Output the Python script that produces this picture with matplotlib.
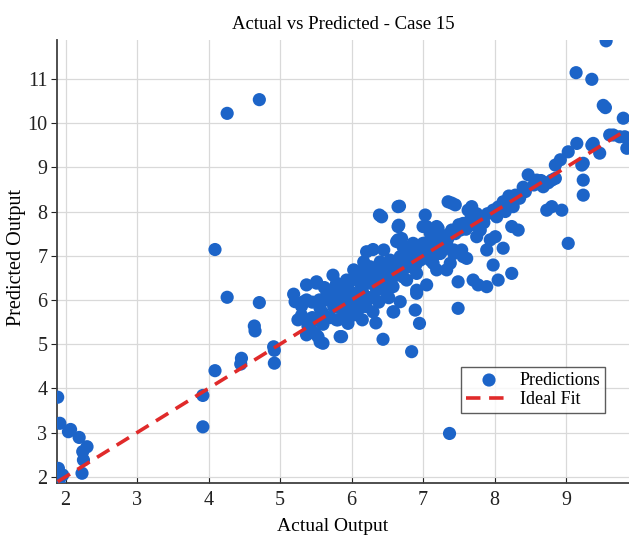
import matplotlib
matplotlib.use("Agg")
import matplotlib.pyplot as plt
import numpy as np

title = "Actual vs Predicted - Case 15"
x_label = "Actual Output"
y_label = "Predicted Output"
x_ticks = [2, 3, 4, 5, 6, 7, 8, 9]
y_ticks = [2, 3, 4, 5, 6, 7, 8, 9, 10, 11]

points = [
    # low cluster near 2
    (1.89, 3.80), (1.92, 3.21), (2.04, 3.02), (2.07, 3.07), (2.19, 2.89), (2.30, 2.68),
    (2.24, 2.57), (2.25, 2.38), (2.23, 2.08), (1.90, 2.19), (1.96, 2.04), (1.91, 1.86),
    # around 4-5
    (3.92, 3.84), (3.92, 3.13), (4.09, 7.14), (4.26, 6.06), (4.71, 5.94), (4.64, 5.41),
    (4.65, 5.30), (4.46, 4.68), (4.45, 4.55), (4.09, 4.40), (4.92, 4.86), (4.92, 4.57),
    (4.26, 10.22), (4.71, 10.53), (4.91, 4.94),
    # 5-6
    (5.19, 6.13), (5.21, 5.96), (5.30, 5.86), (5.37, 6.00), (5.37, 6.34), (5.51, 6.38),
    (5.74, 6.56), (5.72, 6.22), (5.56, 5.81), (5.60, 5.70), (5.39, 5.41), (5.46, 5.28),
    (5.53, 5.17), (5.60, 5.02), (5.37, 5.21), (5.79, 5.55), (5.84, 5.17), (5.33, 5.96),
    (5.74, 6.00), (5.84, 6.30), (5.88, 5.77), (5.81, 5.55), (5.86, 5.17), (5.95, 5.47),
    (5.42, 5.43), (5.49, 5.24), (5.56, 5.05), (5.51, 6.41),
    (5.60, 5.45), (5.70, 5.60), (5.75, 5.85), (5.85, 5.95), (5.90, 5.60), (5.65, 6.10),
    (5.55, 6.00), (5.45, 5.95), (5.45, 5.60), (5.30, 5.65), (5.25, 5.55),
    (5.98, 6.00), (5.88, 6.15), (5.79, 6.38), (5.70, 6.22), (5.67, 6.00), (5.79, 5.85),
    (5.93, 5.85), (5.93, 6.45), (5.95, 6.25), (5.62, 6.28), (5.82, 6.05), (5.52, 5.55),
    # 6-7
    (6.00, 5.75), (6.05, 5.90), (6.10, 6.05), (6.15, 5.55), (6.20, 5.85),
    (6.67, 8.12), (6.39, 7.92), (6.66, 7.69), (6.63, 7.32), (6.21, 7.09), (6.30, 7.14),
    (6.40, 6.86), (6.07, 6.64), (6.03, 5.66), (6.30, 5.73), (6.34, 5.48), (6.44, 5.11),
    (6.59, 5.73), (6.89, 5.77), (6.95, 5.47), (6.84, 4.83), (6.91, 6.22), (6.77, 6.45),
    (6.40, 6.30), (6.21, 6.07), (6.09, 5.77), (6.17, 6.60), (6.26, 6.75), (6.45, 6.79),
    (6.54, 6.90), (6.68, 6.98), (6.82, 7.05), (6.91, 7.17), (6.96, 6.90), (6.72, 6.75),
    (6.58, 6.52), (6.49, 6.45), (6.35, 6.22), (6.26, 6.38), (6.12, 6.38), (6.03, 6.15),
    (6.07, 6.00), (6.17, 6.86), (6.03, 6.68), (6.82, 6.75), (6.91, 6.60), (6.72, 7.20),
    (6.86, 7.28), (6.70, 7.39), (6.45, 7.13), (6.65, 8.11), (6.65, 7.66), (6.42, 7.88),
    (6.65, 7.36), (6.58, 5.73), (6.68, 5.96), (6.91, 6.15), (6.49, 6.15), (6.68, 6.68),
    (6.86, 6.83), (6.96, 7.05), (6.82, 6.98), (6.54, 6.75), (6.44, 6.52), (6.72, 6.52),
    (6.58, 6.30), (6.00, 6.45), (6.10, 6.55), (6.15, 6.20), (6.20, 6.45), (6.25, 6.60),
    (6.30, 6.50), (6.35, 6.65), (6.40, 6.55), (6.45, 6.40), (6.50, 6.60), (6.55, 6.50),
    (6.60, 6.70), (6.65, 6.85), (6.70, 6.60), (6.75, 6.90), (6.80, 6.85), (6.85, 6.95),
    (6.90, 6.80), (6.95, 7.10), (6.12, 5.95), (6.28, 6.05), (6.38, 5.95), (6.52, 6.05),
    # 7-8
    (7.03, 7.92), (7.05, 7.66), (7.40, 8.19), (7.45, 8.15), (7.19, 7.66), (7.49, 5.81),
    (7.49, 6.41), (7.61, 6.94), (7.19, 6.68), (7.05, 6.34), (7.00, 7.28), (7.10, 7.36),
    (7.24, 7.43), (7.38, 7.51), (7.47, 7.58), (7.56, 7.73), (7.10, 7.05), (7.28, 7.13),
    (7.43, 7.05), (7.54, 7.13), (7.10, 7.51), (7.28, 7.28), (7.38, 6.83), (7.14, 6.83),
    (7.35, 8.22), (7.66, 7.81), (7.80, 7.58), (7.75, 7.43), (7.94, 7.36), (7.89, 7.13),
    (7.52, 7.58), (7.40, 7.58), (7.00, 7.66), (7.21, 7.62), (7.14, 7.36), (7.33, 7.28),
    (7.43, 7.13), (7.56, 6.98), (7.98, 6.79), (7.89, 6.30), (7.77, 6.34), (7.70, 6.45),
    (7.33, 6.68), (7.10, 6.90), (7.24, 7.05), (7.98, 8.03), (7.84, 7.88), (7.68, 8.11),
    (7.63, 8.03), (7.00, 7.00), (7.05, 7.15), (7.15, 7.00), (7.20, 7.25), (7.25, 7.35),
    (7.30, 7.45), (7.35, 7.40), (7.45, 7.50), (7.50, 7.70), (7.60, 7.60), (7.70, 7.70),
    (7.75, 7.95), (7.85, 7.75), (7.90, 7.95), (7.37, 2.98),
    # 8-10
    (8.01, 7.43), (8.12, 7.17), (8.24, 7.66), (8.33, 7.58), (8.03, 7.88), (8.24, 6.60),
    (8.05, 6.45), (8.05, 8.10), (8.15, 8.00), (8.20, 8.35), (8.35, 8.30), (8.40, 8.55),
    (8.55, 8.60), (8.65, 8.70), (8.75, 8.65), (8.85, 8.75),
    (8.92, 9.17), (8.85, 9.05), (8.80, 8.71), (8.68, 8.56), (8.59, 8.71), (8.47, 8.83),
    (8.43, 8.45), (8.29, 8.37), (8.22, 8.26), (8.12, 8.22), (8.26, 8.11), (8.73, 8.03),
    (8.80, 8.11), (8.94, 8.03), (9.03, 7.28), (9.03, 9.35), (9.15, 9.54), (9.24, 9.09),
    (9.24, 8.71), (9.24, 8.37), (9.22, 9.05), (9.38, 9.54), (9.36, 9.50), (9.47, 9.32),
    (9.61, 9.73), (9.66, 9.73), (9.75, 9.69), (9.82, 9.69), (9.85, 9.43), (9.80, 10.11),
    (9.52, 10.40), (9.55, 10.35), (9.36, 10.99), (9.14, 11.14), (9.56, 11.86),
]

actual = np.array([p[0] for p in points])
predicted = np.array([p[1] for p in points])

plt.rcParams['font.family'] = ['Liberation Serif', 'DejaVu Serif']

fig = plt.figure(figsize=(6.29, 5.40), dpi=100)
ax = fig.add_axes([0.0906, 0.1056, 0.9094, 0.8204])

ax.grid(True, color='#d9d9d9', linewidth=0.9, zorder=0)
ax.set_axisbelow(True)

ax.scatter(actual, predicted, s=90, color='#1c64c8', edgecolors='none',
           label='Predictions', zorder=3)
lo, hi = actual.min(), actual.max()
ax.plot([lo, hi], [lo, hi], color='#e02a2a', linestyle='--', linewidth=2.6,
        dashes=(4, 2.4), label='Ideal Fit', zorder=4)

ax.set_xlim(1.88, 9.88)
ax.set_ylim(1.86, 11.88)
ax.set_xticks(x_ticks)
ax.set_yticks(y_ticks)

for s in ['top', 'right']:
    ax.spines[s].set_visible(False)
for s in ['left', 'bottom']:
    ax.spines[s].set_color('#404040')
    ax.spines[s].set_linewidth(1.3)

ax.tick_params(axis='x', direction='in', length=4, labelsize=14.5, colors='#222222', pad=6)
ax.tick_params(axis='y', direction='out', length=4, labelsize=14.5, colors='#222222', pad=3)

ax.set_title(title, fontsize=13.5, pad=8)
ax.set_xlabel(x_label, fontsize=14)
ax.set_ylabel(y_label, fontsize=14.5)
ax.xaxis.set_label_coords(0.481, -0.078)
ax.yaxis.set_label_coords(-0.054, 0.508)

leg = ax.legend(loc='lower right', bbox_to_anchor=(0.958, 0.158), fontsize=13,
                frameon=True, fancybox=False, edgecolor='#333333',
                handlelength=2.6, borderpad=0.25, labelspacing=0.15,
                handletextpad=0.4, borderaxespad=0)
leg.get_frame().set_linewidth(1.0)

fig.savefig('out.png', dpi=100)
